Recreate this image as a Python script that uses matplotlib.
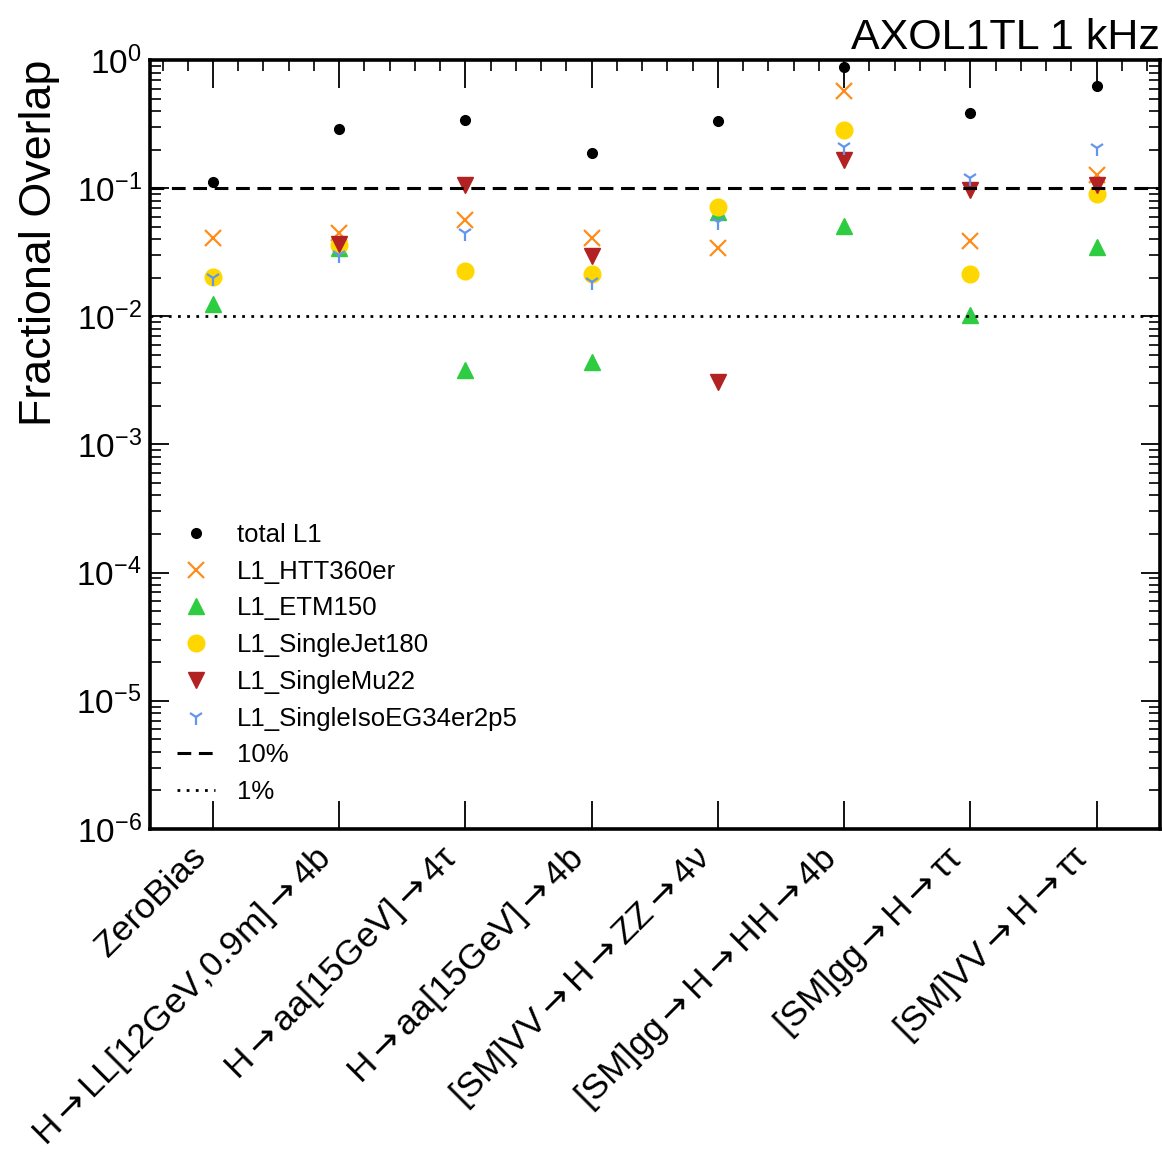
import matplotlib
matplotlib.use("Agg")
import matplotlib.pyplot as plt
import numpy as np
from matplotlib.ticker import LogLocator, MultipleLocator, NullFormatter

plt.rcParams['font.family'] = ['Liberation Sans', 'DejaVu Sans']
plt.rcParams['mathtext.fontset'] = 'custom'
plt.rcParams['mathtext.rm'] = 'Liberation Sans'
plt.rcParams['mathtext.it'] = 'Liberation Sans:italic'
plt.rcParams['mathtext.bf'] = 'Liberation Sans:bold'
plt.rcParams['mathtext.sf'] = 'DejaVu Sans'

categories = [
    "ZeroBias",
    "H→LL[12GeV,0.9m]→4b",
    "H→aa[15GeV]→4τ",
    "H→aa[15GeV]→4b",
    "[SM]VV→H→ZZ→4ν",
    "[SM]gg→H→HH→4b",
    "[SM]gg→H→ττ",
    "[SM]VV→H→ττ",
]

total_l1 = [0.112, 0.29, 0.34, 0.19, 0.334, 0.88, 0.386, 0.63]
htt360er = [0.041, 0.045, 0.0565, 0.041, 0.034, 0.57, 0.039, 0.127]
etm150 = [0.0125, 0.034, 0.0038, 0.0044, 0.065, 0.0507, 0.0102, 0.035]
singlejet180 = [0.0203, 0.036, 0.0226, 0.0214, 0.0713, 0.284, 0.0214, 0.090]
singlemu22 = [np.nan, 0.037, 0.106, 0.0296, 0.0031, 0.166, 0.097, 0.106]
singleisoeg = [0.020, 0.030, 0.045, 0.0185, 0.055, 0.21, 0.12, 0.206]

# render the arrow with a larger glyph (DejaVu Sans via mathtext sf)
tick_labels = [c.replace("→", r"$\mathsf{\rightarrow}$") for c in categories]

fig = plt.figure(figsize=(11.62, 11.56), dpi=100)
ax = fig.add_axes([0.129, 0.283, 0.869, 0.665])

x = np.arange(len(categories))

ax.plot(x, total_l1, linestyle='none', marker='o', color='black', markersize=7, label='total L1')
ax.plot(x, htt360er, linestyle='none', marker='x', color='#ff8c1a', markersize=12, markeredgewidth=1.6, label='L1_HTT360er')
ax.plot(x, etm150, linestyle='none', marker='^', color='#2ecc40', markersize=12, label='L1_ETM150')
ax.plot(x, singlejet180, linestyle='none', marker='o', color='#ffd700', markersize=12, label='L1_SingleJet180')
ax.plot(x, singlemu22, linestyle='none', marker='v', color='#b22222', markersize=12, label='L1_SingleMu22')
ax.plot(x, singleisoeg, linestyle='none', marker='1', color='#6495ed', markersize=11, markeredgewidth=1.6, label='L1_SingleIsoEG34er2p5')

ax.axhline(0.1, color='black', linestyle=(0, (4.5, 2.5)), linewidth=2.2, label='10%')
ax.axhline(0.01, color='black', linestyle=(0, (1, 2.3)), linewidth=2.0, label='1%')

ax.set_yscale('log')
ax.set_ylim(1e-6, 1)
ax.set_xlim(-0.5, len(categories) - 0.5)

ax.set_xticks(x)
ax.set_xticklabels(tick_labels, rotation=45, ha='right', fontsize=25.5)
ax.xaxis.set_minor_locator(MultipleLocator(0.2))

ax.yaxis.set_major_locator(LogLocator(base=10, numticks=20))
ax.yaxis.set_minor_locator(LogLocator(base=10, subs=np.arange(2, 10), numticks=100))
ax.yaxis.set_minor_formatter(NullFormatter())

ax.tick_params(axis='both', which='major', direction='in', length=20, width=1.3, top=True, right=True, labelsize=24, pad=6)
ax.tick_params(axis='x', which='major', labelsize=25.5, pad=8)
ax.tick_params(axis='y', which='major', length=14)
ax.tick_params(axis='both', which='minor', direction='in', length=8, width=1.2, top=True, right=True)
ax.tick_params(axis='x', which='minor', bottom=False)

for s in ax.spines.values():
    s.set_linewidth(2.6)

ax.set_ylabel('Fractional Overlap', fontsize=32.3, loc='top', labelpad=12)
ax.set_title('AXOL1TL 1 kHz', loc='right', fontsize=31, pad=8)

leg = ax.legend(loc='lower left', bbox_to_anchor=(0.0164, 0.019), frameon=False, fontsize=18.5,
                handlelength=1.48, handletextpad=0.85, labelspacing=0.495, borderaxespad=0.0)

fig.savefig('out.png', dpi=100)
